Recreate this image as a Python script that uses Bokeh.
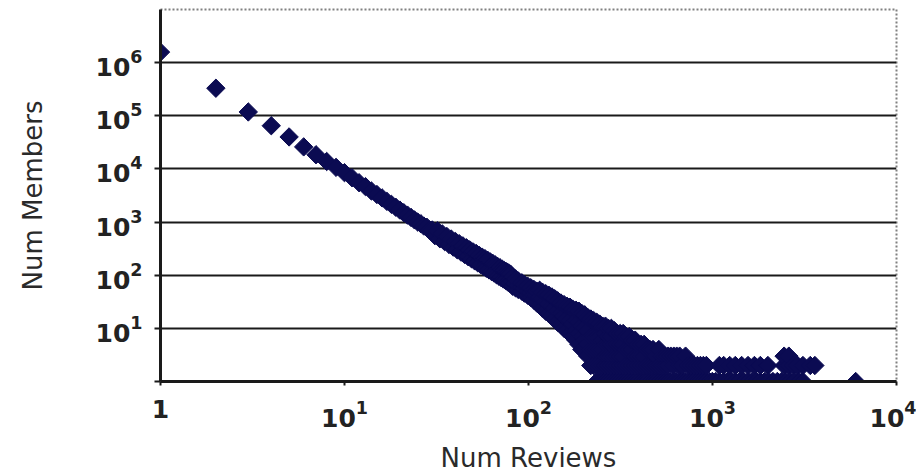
import math
from bokeh.plotting import figure
from bokeh.models import FixedTicker, ColumnDataSource, LogTickFormatter
from bokeh.embed import file_html
from bokeh.resources import INLINE

# ---- data (Num Reviews -> Num Members) ----
head_reviews = list(range(1, 81))
head_members = [
    1580000, 330000, 118000, 65000, 40000, 26000, 18500, 13800, 10700, 8500,
    6800, 5500, 4650, 3850, 3300, 2850, 2450, 2150, 1900, 1680,
    1500, 1350, 1220, 1100, 1000, 930, 840, 800, 710, 710,
    555, 685, 485, 600, 430, 535, 378, 480, 338, 433,
    301, 393, 272, 357, 245, 328, 223, 300, 204, 275,
    186, 256, 171, 236, 158, 219, 145, 205, 135, 191,
    126, 178, 117, 167, 110, 156, 102, 146, 96, 138,
    90, 130, 85, 122, 80, 116, 75, 110, 71, 104,
]

body_reviews = [
    82, 82, 82, 85, 85, 85, 88, 88, 88, 92, 92, 92, 95, 95, 95,
    99, 99, 99, 103, 103, 103, 107, 107, 107, 111, 111, 111,
    115, 115, 115, 119, 119, 119, 124, 124, 124, 129, 129, 129,
    134, 134, 134, 139, 139, 139, 144, 144, 144, 150, 150, 150,
    156, 156, 156, 162, 162, 162, 168, 168, 168, 174, 174, 174,
    181, 181, 181, 181, 188, 188, 188, 188, 195, 195, 195, 195,
    202, 202, 202, 202, 210, 210, 210, 210, 218, 218, 218, 218,
    226, 226, 226, 226, 235, 235, 235, 235, 235,
    244, 244, 244, 244, 244, 253, 253, 253, 253, 253,
]
body_members = [
    62, 76, 92, 58, 70, 85, 54, 65, 78, 50, 60, 72, 46, 56, 67,
    42, 51, 62, 38, 47, 58, 34, 43, 54, 30, 40, 50,
    27, 39, 52, 24, 36, 48, 21, 32, 45, 19, 29, 42,
    17, 26, 39, 15, 24, 36, 13, 21, 33, 12, 19, 30,
    10, 17, 28, 9, 15, 26, 8, 14, 25, 7, 12, 23,
    6, 9, 14, 22, 5, 8, 13, 21, 4, 7, 11, 19,
    4, 6, 10, 18, 3, 5, 9, 16, 2, 4, 7, 15,
    2, 4, 7, 14, 1, 2, 4, 7, 13,
    1, 2, 4, 7, 12, 1, 2, 4, 6, 11,
]

tail_reviews = [
    262, 262, 262, 262, 262, 262, 272, 272, 272, 272, 272, 272,
    282, 282, 282, 282, 282, 282, 293, 293, 293, 293, 293,
    304, 304, 304, 304, 304, 315, 315, 315, 315, 315,
    327, 327, 327, 327, 327, 340, 340, 340, 340, 353, 353, 353, 353,
    366, 366, 366, 366, 380, 380, 380, 380, 394, 394, 394, 394,
    409, 409, 409, 409, 425, 425, 425, 425, 441, 441, 441,
    457, 457, 457, 475, 475, 475, 493, 493, 493, 511, 511, 511,
    531, 531, 531, 551, 551, 551, 572, 572, 572, 593, 593,
    616, 616, 616, 639, 639, 663, 663, 663, 688, 688, 714, 714,
    741, 741, 769, 769, 798, 798, 828, 828, 860, 860, 892, 892,
    926, 926, 961, 998,
]
tail_members = [
    1, 2, 3, 5, 8, 11, 1, 2, 3, 5, 7, 10,
    1, 2, 3, 5, 7, 10, 1, 2, 3, 5, 9,
    1, 2, 3, 5, 8, 1, 2, 3, 5, 8,
    1, 2, 3, 5, 8, 1, 2, 4, 7, 1, 2, 4, 7,
    1, 2, 4, 6, 1, 2, 3, 6, 1, 2, 3, 5,
    1, 2, 3, 5, 1, 2, 3, 5, 1, 2, 4,
    1, 2, 4, 1, 2, 4, 1, 2, 3, 1, 2, 4,
    1, 2, 3, 1, 2, 3, 1, 2, 3, 1, 3,
    1, 2, 3, 1, 3, 1, 2, 3, 1, 2, 1, 3,
    1, 2, 1, 2, 1, 2, 1, 2, 1, 2, 1, 2,
    1, 2, 1, 1,
]

far_reviews = [
    1040, 1090, 1090, 1150, 1150, 1210, 1240, 1270, 1330, 1330, 1400, 1440,
    1480, 1560, 1560, 1640, 1690, 1730, 1820, 1820, 1920, 2000, 2020,
    2130, 2250, 2370, 2450, 2450, 2500, 2600, 2600, 2640, 2750, 2790,
    2900, 2950, 3100, 3100, 3400, 3600, 6000,
]
far_members = [
    1, 1, 2, 1, 2, 1, 2, 1, 1, 2, 1, 2,
    1, 1, 2, 1, 2, 1, 1, 2, 1, 2, 1,
    1, 1, 1, 2, 3, 1, 2, 3, 1, 2, 1,
    2, 1, 1, 2, 2, 2, 1,
]

x_ticks = [1, 10, 100, 1000, 10000]
y_ticks = [1, 10, 100, 1000, 10000, 100000, 1000000]

reviews = head_reviews + body_reviews + tail_reviews + far_reviews
members = head_members + body_members + tail_members + far_members
src = ColumnDataSource(dict(x=reviews, y=members))

p = figure(width=916, height=475, x_axis_type="log", y_axis_type="log",
           x_range=(1, 10000), y_range=(1, 10000000),
           output_backend="svg", toolbar_location=None,
           min_border_left=160, min_border_right=20,
           min_border_top=9, min_border_bottom=92,
           background_fill_color="white", border_fill_color="white")

p.scatter("x", "y", source=src, marker="square", angle=math.pi / 4, size=13,
          fill_color="#0b0b52", line_color="#0b0b52", line_width=1)

p.outline_line_color = "#808080"
p.outline_line_width = 2
p.outline_line_dash = "2 2"

p.xgrid.grid_line_color = None
p.ygrid.grid_line_color = "#1a1a1a"
p.ygrid.grid_line_width = 2

FONT = "DejaVu Sans"
for ax in (p.xaxis[0], p.yaxis[0]):
    ax.formatter = LogTickFormatter()
    ax.axis_line_color = "#1a1a1a"
    ax.axis_line_width = 3
    ax.major_tick_line_color = "#1a1a1a"
    ax.major_tick_line_width = 2
    ax.major_tick_in = 0
    ax.minor_tick_line_color = None
    ax.major_label_text_font = FONT
    ax.major_label_text_font_size = "25px"
    ax.major_label_text_font_style = "bold"
    ax.major_label_text_color = "#222222"
    ax.axis_label_text_font = FONT
    ax.axis_label_text_font_size = "26px"
    ax.axis_label_text_font_style = "normal"
    ax.axis_label_text_color = "#2a2a2a"

p.xaxis.ticker = FixedTicker(ticks=x_ticks)
p.yaxis.ticker = FixedTicker(ticks=y_ticks)
p.xaxis.major_label_overrides = {1.0: "1"}
p.yaxis.major_label_overrides = {1.0: ""}

p.xaxis.axis_label = "Num Reviews"
p.yaxis.axis_label = "Num Members"
p.xaxis.major_tick_out = 4
p.yaxis.major_tick_out = 6
p.xaxis.major_label_standoff = 14
p.yaxis.major_label_standoff = 12
p.xaxis.axis_label_standoff = 13
p.yaxis.axis_label_standoff = 45

open("out.html", "w").write(file_html(p, INLINE))
